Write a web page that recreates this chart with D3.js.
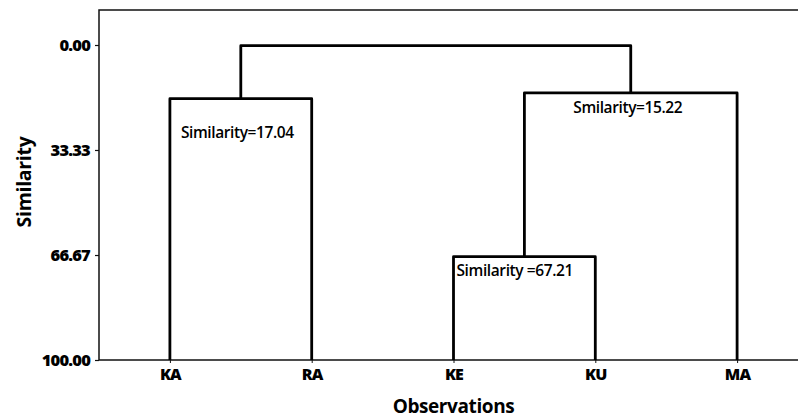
<!DOCTYPE html>
<html>
<head>
<meta charset="utf-8">
<script src="https://cdn.jsdelivr.net/npm/d3@7"></script>
<style>
  html, body { margin: 0; padding: 0; background: #fff; }
  svg { display: block; font-family: "Open Sans", sans-serif; }
</style>
</head>
<body>
<div class="chart"></div>
<script>
// leaves in the order they are drawn
const observations = ["KA", "RA", "KE", "KU", "MA"];

// merge steps of the dendrogram
const clusterIds = ["KA+RA", "KE+KU", "KE+KU+MA", "ALL"];
const clusterChildren = [["KA", "RA"], ["KE", "KU"], ["KE+KU", "MA"], ["KA+RA", "KE+KU+MA"]];
const clusterLevels = [17.04, 67.21, 15.22, 0.2];
const clusterLabels = ["Similarity=17.04", "Similarity =67.21", "Smilarity=15.22", ""];

const yTicks = [0, 33.33, 66.67, 100];

const width = 798, height = 419;
const frame = {left: 99, top: 10, right: 808, bottom: 360};

const svg = d3.select(".chart").append("svg")
  .attr("width", width)
  .attr("height", height);

const x = d3.scalePoint()
  .domain(observations)
  .range([frame.left, frame.right])
  .padding(0.5);

const y = d3.scaleLinear()
  .domain([0, 100])
  .range([45, frame.bottom]);

// frame
svg.append("rect")
  .attr("x", frame.left)
  .attr("y", frame.top)
  .attr("width", frame.right - frame.left)
  .attr("height", frame.bottom - frame.top)
  .attr("fill", "none")
  .attr("stroke", "#111")
  .attr("stroke-width", 1.5);

// y axis
const yAxis = svg.append("g")
  .attr("transform", "translate(" + frame.left + ",0)")
  .call(d3.axisLeft(y).tickValues(yTicks).tickFormat(d3.format(".2f")).tickSize(4).tickPadding(5));
yAxis.select(".domain").remove();
yAxis.selectAll("line").attr("stroke", "#111").attr("stroke-width", 1.2);
yAxis.selectAll("text")
  .attr("fill", "#000")
  .style("font-family", "'Open Sans', sans-serif")
  .style("font-size", "16.5px")
  .style("font-weight", "800")
  .style("letter-spacing", "-0.8px");

// x axis
const xAxis = svg.append("g")
  .attr("transform", "translate(0," + frame.bottom + ")")
  .call(d3.axisBottom(x).tickSize(3).tickPadding(6));
xAxis.select(".domain").remove();
xAxis.selectAll("line").attr("stroke", "#111");
xAxis.selectAll("text")
  .attr("fill", "#000")
  .style("font-family", "'Open Sans', sans-serif")
  .style("font-size", "16px")
  .style("font-weight", "800")
  .style("letter-spacing", "-0.8px");

// node positions
const nodeX = {}, nodeY = {};
observations.forEach(o => { nodeX[o] = x(o); nodeY[o] = y(100); });
clusterIds.forEach((id, i) => {
  const kids = clusterChildren[i];
  nodeX[id] = d3.mean(kids, k => nodeX[k]);
  nodeY[id] = y(clusterLevels[i]);
});

// dendrogram links (inverted U for every merge)
const links = svg.append("g")
  .attr("fill", "none")
  .attr("stroke", "#000")
  .attr("stroke-width", 2.8)
  .attr("stroke-linejoin", "round");

clusterIds.forEach((id, i) => {
  const [a, b] = clusterChildren[i];
  const p = d3.path();
  p.moveTo(nodeX[a], nodeY[a]);
  p.lineTo(nodeX[a], nodeY[id]);
  p.lineTo(nodeX[b], nodeY[id]);
  p.lineTo(nodeX[b], nodeY[b]);
  links.append("path").attr("d", p.toString());
});

// similarity annotations
const labelPlacement = [
  {anchor: "start", dx: 11, dy: 39, from: "left"},
  {anchor: "start", dx: 3, dy: 19, from: "left"},
  {anchor: "middle", dx: -3, dy: 20, from: "node"},
  null
];
clusterIds.forEach((id, i) => {
  const pl = labelPlacement[i];
  if (!pl || !clusterLabels[i]) return;
  const baseX = pl.from === "left" ? nodeX[clusterChildren[i][0]] : nodeX[id];
  svg.append("text")
    .attr("x", baseX + pl.dx)
    .attr("y", nodeY[id] + pl.dy)
    .attr("text-anchor", pl.anchor)
    .attr("fill", "#000")
    .style("font-size", "15.5px")
    .style("font-weight", "600")
    .style("letter-spacing", "-0.4px")
    .text(clusterLabels[i]);
});

// axis titles
svg.append("text")
  .attr("x", (frame.left + frame.right) / 2)
  .attr("y", 413)
  .attr("text-anchor", "middle")
  .attr("fill", "#000")
  .style("font-size", "19px")
  .style("font-weight", "bold")
  .style("letter-spacing", "-0.4px")
  .text("Observations");

svg.append("text")
  .attr("transform", "translate(31,182) rotate(-90)")
  .attr("text-anchor", "middle")
  .attr("fill", "#000")
  .style("font-size", "19.5px")
  .style("font-weight", "bold")
  .style("letter-spacing", "-0.3px")
  .text("Similarity");
</script>
</body>
</html>
